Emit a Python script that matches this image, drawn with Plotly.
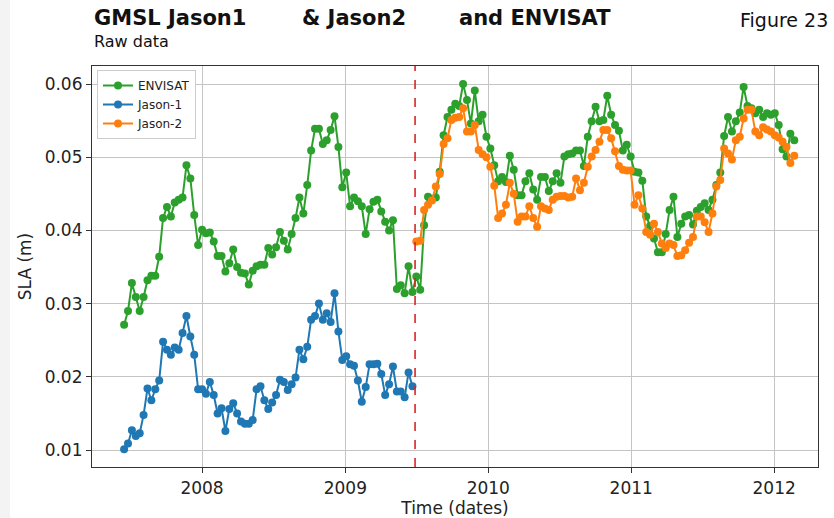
import numpy as np
import pandas as pd
import plotly.graph_objects as go

# ---------------- data ----------------
start_date = "2007-06-16"
step_days = 9.95
split_date = "2009-06-28"

envisat = [
    0.0271, 0.0290, 0.0328, 0.0309, 0.0290, 0.0309, 0.0332, 0.0338, 0.0338, 0.0364,
    0.0417, 0.0432, 0.0419, 0.0438, 0.0442, 0.0445, 0.0489, 0.0471, 0.0421, 0.0380,
    0.0401, 0.0396, 0.0397, 0.0385, 0.0365, 0.0365, 0.0344, 0.0355, 0.0374, 0.0350,
    0.0342, 0.0341, 0.0326, 0.0345, 0.0351, 0.0353, 0.0353, 0.0376, 0.0367, 0.0377,
    0.0398, 0.0386, 0.0374,
    0.0395, 0.0417, 0.0445, 0.0423, 0.0462, 0.0509, 0.0539, 0.0539, 0.0518, 0.0523,
    0.0537, 0.0556, 0.0514, 0.0459, 0.0479, 0.0433, 0.0445, 0.0440, 0.0433, 0.0395,
    0.0429, 0.0439, 0.0442, 0.0426, 0.0412, 0.0400, 0.0414, 0.0320, 0.0325, 0.0314,
    0.0351, 0.0316,
    0.0337, 0.0319, 0.0407, 0.0446, 0.0443, 0.0445, 0.0480, 0.0530, 0.0555, 0.0565,
    0.0573, 0.0570, 0.0600, 0.0578, 0.0546, 0.0591, 0.0549, 0.0558, 0.0528, 0.0512,
    0.0489, 0.0467, 0.0473, 0.0466, 0.0502, 0.0483, 0.0448, 0.0448, 0.0467, 0.0478,
    0.0456, 0.0442, 0.0473, 0.0473, 0.0454, 0.0467, 0.0478, 0.0465, 0.0501, 0.0504,
    0.0505, 0.0509, 0.0509, 0.0488, 0.0528, 0.0549, 0.0569, 0.0549, 0.0551, 0.0584,
    0.0558, 0.0544, 0.0536, 0.0509, 0.0517, 0.0501, 0.0480, 0.0479, 0.0468, 0.0419,
    0.0406, 0.0389, 0.0370, 0.0370, 0.0395, 0.0428, 0.0446, 0.0391, 0.0409, 0.0419,
    0.0421, 0.0408, 0.0427, 0.0432, 0.0437, 0.0428, 0.0442, 0.0462, 0.0479, 0.0529,
    0.0555, 0.0535, 0.0549, 0.0561, 0.0596, 0.0570, 0.0567, 0.0560, 0.0565, 0.0555,
    0.0560, 0.0558, 0.0560, 0.0544, 0.0511, 0.0501, 0.0532, 0.0523,
]

jason1 = [
    0.0101, 0.0109, 0.0127, 0.0119, 0.0123, 0.0148, 0.0184, 0.0168, 0.0183, 0.0195,
    0.0248, 0.0237, 0.0230, 0.0240, 0.0237, 0.0260, 0.0283, 0.0255, 0.0230, 0.0183,
    0.0183, 0.0177, 0.0193, 0.0175, 0.0150, 0.0157, 0.0126, 0.0156, 0.0164, 0.0150,
    0.0139, 0.0136, 0.0136, 0.0141, 0.0183, 0.0187, 0.0168, 0.0156, 0.0165, 0.0175,
    0.0196, 0.0193, 0.0182,
    0.0190, 0.0199, 0.0237, 0.0224, 0.0241, 0.0278, 0.0283, 0.0300, 0.0278, 0.0287,
    0.0275, 0.0314, 0.0262, 0.0223, 0.0228, 0.0217, 0.0215, 0.0195, 0.0166, 0.0186,
    0.0217, 0.0217, 0.0218, 0.0204, 0.0175, 0.0190, 0.0214, 0.0180, 0.0180, 0.0172,
    0.0206, 0.0187,
]

jason2 = [
    0.0385, 0.0386, 0.0428, 0.0435, 0.0441, 0.0460, 0.0477, 0.0518, 0.0526, 0.0551,
    0.0554, 0.0555, 0.0567, 0.0535, 0.0535, 0.0544, 0.0510, 0.0504, 0.0500, 0.0487,
    0.0461, 0.0417, 0.0423, 0.0435, 0.0465, 0.0450, 0.0412, 0.0419, 0.0419, 0.0433,
    0.0417, 0.0405, 0.0433, 0.0430, 0.0428, 0.0442, 0.0446, 0.0447, 0.0447, 0.0445,
    0.0446, 0.0471, 0.0455, 0.0465, 0.0487, 0.0501, 0.0510, 0.0521, 0.0537, 0.0537,
    0.0526, 0.0508, 0.0488, 0.0483, 0.0482, 0.0482, 0.0435, 0.0448, 0.0430, 0.0398,
    0.0394, 0.0409, 0.0398, 0.0382, 0.0376, 0.0382, 0.0380, 0.0365, 0.0366, 0.0373,
    0.0383, 0.0391, 0.0419, 0.0419, 0.0411, 0.0398, 0.0423, 0.0460, 0.0469, 0.0512,
    0.0505, 0.0497, 0.0523, 0.0528, 0.0553, 0.0565, 0.0565, 0.0535, 0.0530, 0.0541,
    0.0538, 0.0535, 0.0530, 0.0527, 0.0521, 0.0514, 0.0492, 0.0502,
]

year_ticks = ["2008-01-01", "2009-01-01", "2010-01-01", "2011-01-01", "2012-01-01"]
year_labels = ["2008", "2009", "2010", "2011", "2012"]
y_ticks = [0.01, 0.02, 0.03, 0.04, 0.05, 0.06]

# time grid (regular satellite cycle)
t0 = pd.Timestamp(start_date)
dates = [t0 + pd.Timedelta(days=step_days * i) for i in range(len(envisat))]
dates_j1 = dates[:len(jason1)]
dates_j2 = dates[len(jason1):len(jason1) + len(jason2)]

# ---------------- figure ----------------
W, H = 834, 518
L, R, T, B = 92, 16, 66, 51
PW, PH = W - L - R, H - T - B

def px(x):
    return (x - L) / PW

def py(y):
    return (H - B - y) / PH

FONT = "DejaVu Sans"
fig = go.Figure()

fig.add_trace(go.Scatter(x=dates, y=envisat, mode="lines+markers", name="ENVISAT",
                         line=dict(color="#2ca02c", width=2),
                         marker=dict(color="#2ca02c", size=8)))
fig.add_trace(go.Scatter(x=dates_j1, y=jason1, mode="lines+markers", name="Jason-1",
                         line=dict(color="#1f77b4", width=2),
                         marker=dict(color="#1f77b4", size=8)))
fig.add_trace(go.Scatter(x=dates_j2, y=jason2, mode="lines+markers", name="Jason-2",
                         line=dict(color="#ff7f0e", width=2),
                         marker=dict(color="#ff7f0e", size=8)))

shapes = [
    dict(type="line", xref="x", yref="paper", x0=split_date, x1=split_date, y0=0, y1=1,
         line=dict(color="#d62728", width=1.6, dash="dash"), layer="above"),
    # legend shadow
    dict(type="rect", xref="paper", yref="paper",
         x0=px(100), x1=px(196), y0=py(138), y1=py(73),
         fillcolor="rgba(0,0,0,0.3)", line=dict(width=0), layer="above"),
    # left page strip
    dict(type="rect", xref="paper", yref="paper",
         x0=px(0), x1=px(10), y0=py(H), y1=py(0),
         fillcolor="#f3f3f3", line=dict(width=0), layer="below"),
]

annotations = [
    dict(text="<b>GMSL Jason1</b>", x=px(92), y=py(18), xref="paper", yref="paper",
         xanchor="left", yanchor="middle", showarrow=False,
         font=dict(family=FONT, size=21, color="#111")),
    dict(text="<b>&amp; Jason2</b>", x=px(300), y=py(18), xref="paper", yref="paper",
         xanchor="left", yanchor="middle", showarrow=False,
         font=dict(family=FONT, size=21, color="#111")),
    dict(text="<b>and ENVISAT</b>", x=px(457), y=py(18), xref="paper", yref="paper",
         xanchor="left", yanchor="middle", showarrow=False,
         font=dict(family=FONT, size=21, color="#111")),
    dict(text="Raw data", x=px(92), y=py(41), xref="paper", yref="paper",
         xanchor="left", yanchor="middle", showarrow=False,
         font=dict(family=FONT, size=16, color="#111")),
    dict(text="Figure 23", x=px(830), y=py(20), xref="paper", yref="paper",
         xanchor="right", yanchor="middle", showarrow=False,
         font=dict(family=FONT, size=19, color="#111")),
]

fig.update_layout(
    width=W, height=H,
    margin=dict(l=L, r=R, t=T, b=B, pad=0),
    paper_bgcolor="white", plot_bgcolor="white",
    font=dict(family=FONT, size=17, color="#222"),
    showlegend=True,
    legend=dict(x=px(97), y=py(70), xanchor="left", yanchor="top",
                bgcolor="white", bordercolor="#cccccc", borderwidth=1,
                font=dict(family=FONT, size=12, color="#222"),
                tracegroupgap=0, itemwidth=30),
    shapes=shapes,
    annotations=annotations,
    xaxis=dict(type="date", range=["2007-03-26", "2012-04-22"],
               tickvals=year_ticks, ticktext=year_labels,
               showgrid=True, gridcolor="#c4c4c4", gridwidth=1,
               showline=True, linecolor="#333", linewidth=1.2, mirror=True,
               ticks="outside", ticklen=5, tickcolor="#333",
               automargin=False,
               title=dict(text="Time (dates)", standoff=9,
                          font=dict(family=FONT, size=17)),
               zeroline=False),
    yaxis=dict(range=[0.00768, 0.06246], tickvals=y_ticks, tickformat=".2f",
               showgrid=True, gridcolor="#c4c4c4", gridwidth=1,
               showline=True, linecolor="#333", linewidth=1.2, mirror=True,
               ticks="outside", ticklen=5, tickcolor="#333",
               automargin=False,
               title=dict(text="SLA (m)", standoff=8,
                          font=dict(family=FONT, size=17)),
               zeroline=False),
)

fig.write_html("out.html")
